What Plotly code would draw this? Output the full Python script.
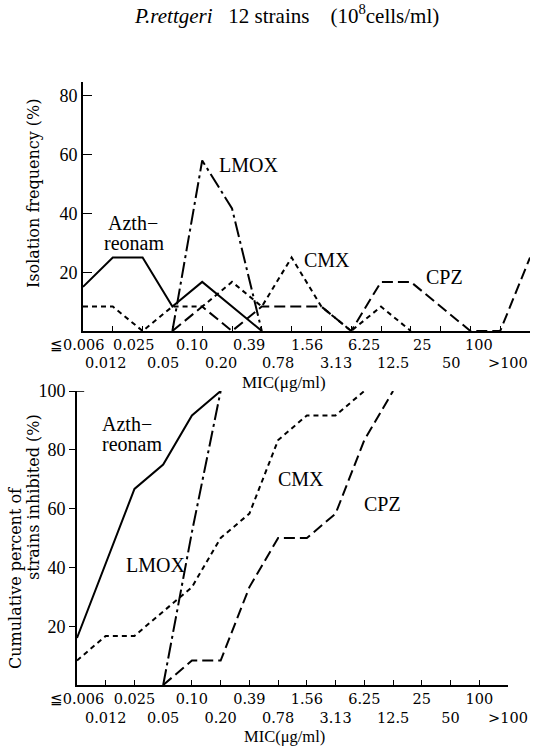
import plotly.graph_objects as go

# ---------------- data ----------------
mic_labels = ["≦0.006", "0.012", "0.025", "0.05", "0.10", "0.20", "0.39", "0.78",
              "1.56", "3.13", "6.25", "12.5", "25", "50", "100", ">100"]

# top panel: isolation frequency (%)
azt_freq_x = [0, 1, 2, 3, 4, 5, 6]
azt_freq = [15, 25, 25, 8.3, 16.7, 8.3, 0]
lmox_freq_x = [3, 4, 5, 6]
lmox_freq = [0, 58, 41.7, 0]
cmx_freq_x = [0, 1, 2, 3, 4, 5, 6, 7, 8, 9, 10, 11]
cmx_freq = [8.3, 8.3, 0, 8.3, 8.3, 16.7, 8.3, 25, 8.3, 0, 8.3, 0]
cpz_freq_x = [3, 4, 5, 6, 7, 8, 9, 10, 11, 12, 13, 14, 15]
cpz_freq = [0, 8.3, 0, 8.3, 8.3, 8.3, 0, 16.7, 16.7, 8.3, 0, 0, 25]

# bottom panel: cumulative percent of strains inhibited (%)
azt_cum_x = [0, 1, 2, 3, 4, 5]
azt_cum = [16, 41.7, 66.7, 75, 91.7, 100]
lmox_cum_x = [3, 4, 5]
lmox_cum = [0, 52, 100]
cmx_cum_x = [0, 1, 2, 3, 4, 5, 6, 7, 8, 9, 10]
cmx_cum = [8.3, 16.7, 16.7, 25, 33.3, 50, 58.3, 83.3, 91.7, 91.7, 100]
cpz_cum_x = [3, 4, 5, 6, 7, 8, 9, 10, 11]
cpz_cum = [0, 8.3, 8.3, 33.3, 50, 50, 58.3, 83.3, 100]

top_yticks = [20, 40, 60, 80]
bot_yticks = [20, 40, 60, 80, 100]

# ---------------- styling ----------------
W, H = 542, 746
SERIF = "Liberation Serif"
WSERIF = "DejaVu Serif"

styles = {
    "azt": dict(color="black", width=2, dash="solid"),
    "lmox": dict(color="black", width=2, dash="16px,4px,3px,4px"),
    "cmx": dict(color="black", width=2, dash="5px,4px"),
    "cpz": dict(color="black", width=2, dash="11px,5px"),
}

def px_x(p):
    return p / W

def px_y(p):
    return 1 - p / H

idx = list(range(len(mic_labels)))
# two-row tick text (odd categories on the second line)
tick_text = [lab if i % 2 == 0 else "<br>" + lab for i, lab in enumerate(mic_labels)]

fig = go.Figure()

def add(x, y, key, xa, ya):
    fig.add_trace(go.Scatter(x=x, y=y, mode="lines", line=styles[key],
                             xaxis=xa, yaxis=ya, showlegend=False,
                             cliponaxis=False, hoverinfo="skip"))

add(azt_freq_x, azt_freq, "azt", "x", "y")
add(lmox_freq_x, lmox_freq, "lmox", "x", "y")
add(cmx_freq_x, cmx_freq, "cmx", "x", "y")
add(cpz_freq_x, cpz_freq, "cpz", "x", "y")

add(azt_cum_x, azt_cum, "azt", "x2", "y2")
add(lmox_cum_x, lmox_cum, "lmox", "x2", "y2")
add(cmx_cum_x, cmx_cum, "cmx", "x2", "y2")
add(cpz_cum_x, cpz_cum, "cpz", "x2", "y2")

tickfont_x = dict(family=WSERIF, size=14.5, color="black")
axis_line = dict(showline=True, linecolor="black", linewidth=1.6, showgrid=False,
                 zeroline=False, automargin=False)

top_dom = [px_x(83), px_x(530)]
bot_dom = [px_x(77), px_x(508)]

fig.update_layout(
    width=W, height=H,
    margin=dict(l=0, r=0, t=0, b=0),
    paper_bgcolor="white", plot_bgcolor="white",
    xaxis=dict(domain=top_dom, anchor="y", range=[0, 15], tickmode="array",
               tickvals=idx, showticklabels=False, ticks="inside", ticklen=5,
               tickwidth=1.3, tickcolor="black", **axis_line),
    yaxis=dict(domain=[px_y(331), px_y(82)], anchor="x", range=[0, 84.7],
               tickmode="array", tickvals=top_yticks, ticks="inside", ticklen=9,
               tickwidth=1.3, tickcolor="black",
               tickfont=dict(family=SERIF, size=18, color="black"), **axis_line),
    xaxis2=dict(domain=bot_dom, anchor="y2", range=[0, 15], tickmode="array",
                tickvals=idx, ticktext=tick_text, ticks="inside", ticklen=5,
                tickwidth=1.3, tickcolor="black", tickangle=0,
                tickfont=tickfont_x, **axis_line),
    yaxis2=dict(domain=[px_y(685), px_y(391)], anchor="x2", range=[0, 100],
                tickmode="array", tickvals=bot_yticks, ticks="outside", ticklen=6,
                tickwidth=1.3, tickcolor="black",
                tickfont=dict(family=SERIF, size=18, color="black"), **axis_line),
)

# top panel category labels: printed on the same (narrower) scale as the lower axis
for i, lab in enumerate(mic_labels):
    fig.add_annotation(text=lab, x=i, xref="x2", y=px_y(345 if i % 2 == 0 else 363),
                       yref="paper", showarrow=False, borderpad=0,
                       font=tickfont_x, xanchor="center", yanchor="middle")

# cap at the top of the lower y axis
fig.add_shape(type="line", xref="x2", yref="y2", x0=0, x1=0.25, y0=100, y1=100,
              line=dict(color="black", width=1.6))

def note(text, x, y, size=20, family=SERIF, angle=0):
    fig.add_annotation(text=text, x=px_x(x), y=px_y(y), xref="paper", yref="paper",
                       showarrow=False, textangle=angle, borderpad=0,
                       font=dict(family=family, size=size, color="black"),
                       xanchor="center", yanchor="middle")

# title
note("<i>P.rettgeri</i>   12 strains    (10<sup>8</sup>cells/ml)", 286, 14, size=21)

# axis titles
note("Isolation frequency (%)", 33, 193, size=16, family=WSERIF, angle=-90)
note("MIC(μg/ml)", 284, 382, size=17)
note("Cumulative percent of", 15, 578, size=16, family=WSERIF, angle=-90)
note("strains inhibited (%)", 33, 497, size=16, family=WSERIF, angle=-90)
note("MIC(μg/ml)", 284, 736, size=16.5)

# series labels, top
note("Azth−", 133, 223)
note("reonam", 134, 243)
note("LMOX", 248, 165)
note("CMX", 327, 260)
note("CPZ", 444, 277)

# series labels, bottom
note("Azth−", 127, 424)
note("reonam", 132, 444)
note("LMOX", 155, 565)
note("CMX", 301, 479)
note("CPZ", 382, 504)

fig.write_html("out.html")
